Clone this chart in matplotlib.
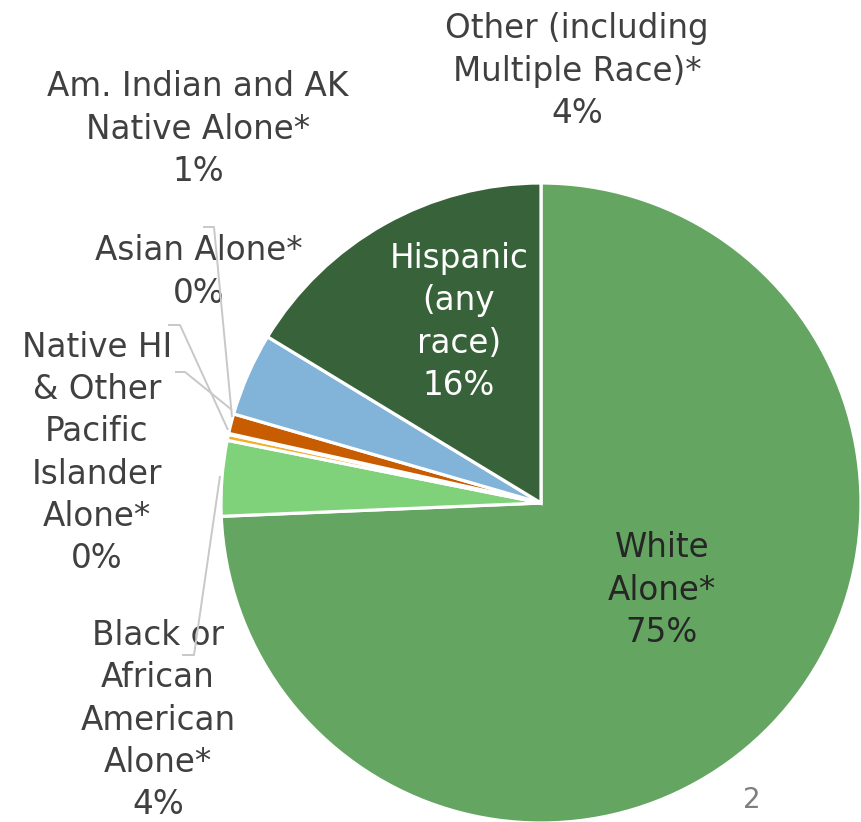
import matplotlib
matplotlib.use("Agg")
import matplotlib.pyplot as plt

# ---- data ----
categories = ["White Alone*", "Black or African American Alone*",
              "Native HI & Other Pacific Islander Alone*", "Asian Alone*",
              "Am. Indian and AK Native Alone*", "Other (including Multiple Race)*",
              "Hispanic (any race)"]
values = [74.3, 3.8, 0.3, 0.05, 1.0, 4.2, 16.3]
pct_labels = ["75%", "4%", "0%", "0%", "1%", "4%", "16%"]
colors = ["#65A562", "#7FD17A", "#F2B02A", "#A5A5A5", "#C85C00", "#82B3D9", "#38633A"]

W, H = 862, 822
fig = plt.figure(figsize=(W / 100, H / 100), dpi=100)
ax = fig.add_axes([0, 0, 1, 1])
ax.set_xlim(0, W)
ax.set_ylim(0, H)
ax.set_aspect("equal")
ax.axis("off")

def Y(y):
    return H - y

ax.pie(values, colors=colors, startangle=90, counterclock=False,
       center=(541, Y(503)), radius=320, frame=True,
       wedgeprops=dict(edgecolor="white", linewidth=2.3))
ax.set_xlim(0, W)
ax.set_ylim(0, H)
ax.axis("off")

fs = 23.5
ls = 1.35
dark = "#404040"
font = "DejaVu Sans"

def lab(x, y, s, color=dark, size=fs):
    ax.text(x, Y(y), s, ha="center", va="center", fontsize=size, color=color,
            family=font, linespacing=ls, multialignment="center")

lab(577, 71, "Other (including\nMultiple Race)*\n" + pct_labels[5])
lab(198, 129, "Am. Indian and AK\nNative Alone*\n" + pct_labels[4])
lab(199, 272, "Asian Alone*\n" + pct_labels[3])
lab(97, 453, "Native HI\n& Other\nPacific\nIslander\nAlone*\n" + pct_labels[2])
lab(158, 720, "Black or\nAfrican\nAmerican\nAlone*\n" + pct_labels[1])
lab(459, 322, "Hispanic\n(any\nrace)\n" + pct_labels[6], color="white")
lab(662, 590, "White\nAlone*\n" + pct_labels[0], color="#262626")

# leader lines
lc = "#C8C8C8"
lw = 1.4
leaders = [
    [(203, 227), (214, 227), (232, 417)],
    [(168, 325), (180, 325), (228, 430)],
    [(175, 372), (185, 372), (232, 410)],
    [(182, 655), (194, 655), (220, 476)],
]
for pts in leaders:
    ax.plot([p[0] for p in pts], [Y(p[1]) for p in pts], color=lc, lw=lw,
            solid_capstyle="butt", zorder=3)

ax.text(752, Y(800), "2", ha="center", va="center", fontsize=20,
        color="#7F7F7F", family=font)

fig.savefig("out.png", dpi=100)
